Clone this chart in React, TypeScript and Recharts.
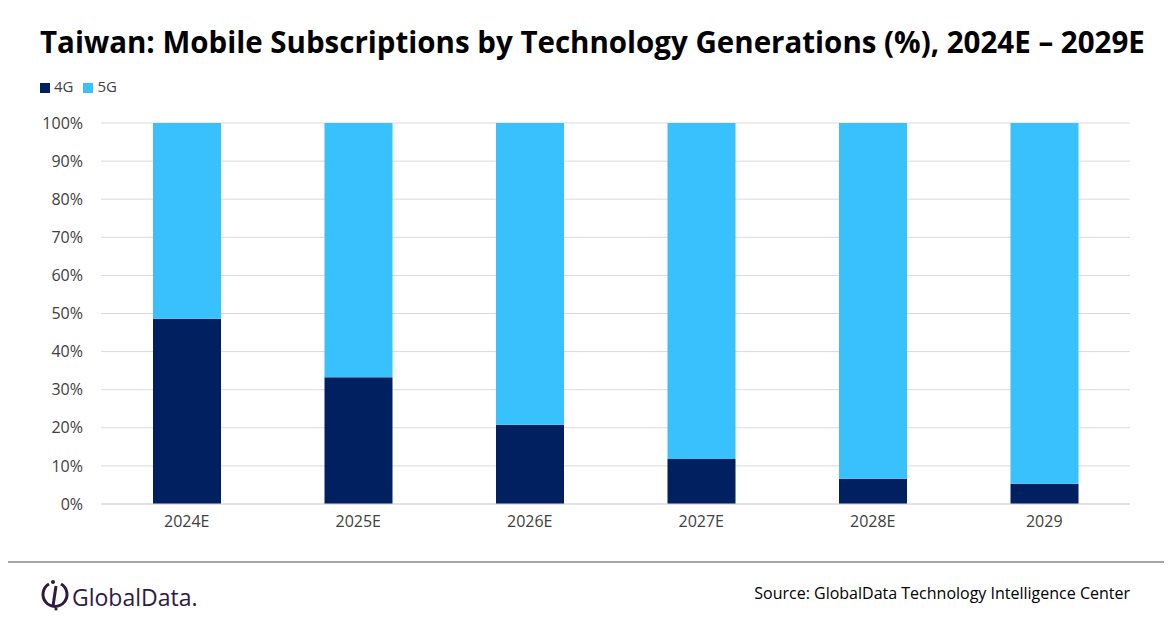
import { BarChart, Bar, XAxis, YAxis, CartesianGrid, Legend } from "recharts"

const years = ["2024E", "2025E", "2026E", "2027E", "2028E", "2029"]
const g4 = [48.6, 33.3, 20.8, 11.8, 6.6, 5.3]
const g5 = g4.map((v) => 100 - v)
const yTicks = [0, 10, 20, 30, 40, 50, 60, 70, 80, 90, 100]

const data = years.map((year, i) => ({ year, g4: g4[i], g5: g5[i] }))

const font = "'Open Sans', sans-serif"

export default function App() {
  return (
    <div style={{ position: "relative", width: 1172, height: 628, background: "#fff", margin: -8, fontFamily: font }}>
      <div style={{ position: "absolute", left: 40, top: 21, fontSize: 29.5, fontWeight: 700, color: "#000", whiteSpace: "nowrap" }}>
        Taiwan: Mobile Subscriptions by Technology Generations (%), 2024E – 2029E
      </div>
      <div style={{ position: "absolute", left: 0, top: 70 }}>
        <BarChart width={1172} height={464} data={data} barSize={68} margin={{ top: 33, right: 42, bottom: 0, left: 12 }}>
          <CartesianGrid vertical={false} stroke="#d9d9d9" />
          <XAxis dataKey="year" tickLine={false} axisLine={{ stroke: "#d9d9d9" }} tick={{ fontSize: 16, fill: "#404040", fontFamily: font }} tickMargin={6} />
          <YAxis domain={[0, 100]} ticks={yTicks} tickFormatter={(v) => `${v}%`} tickLine={false} axisLine={false} tick={{ fontSize: 16, fill: "#404040", fontFamily: font }} width={89} tickMargin={12} />
          <Legend verticalAlign="top" align="left" iconType="square" iconSize={10} wrapperStyle={{ top: 6, left: 40, fontSize: 15, fontFamily: font }} formatter={(v) => <span style={{ color: "#404040" }}>{v}</span>} />
          <Bar dataKey="g4" name="4G" stackId="a" fill="#002060" isAnimationActive={false} />
          <Bar dataKey="g5" name="5G" stackId="a" fill="#38c1fd" isAnimationActive={false} />
        </BarChart>
      </div>
      <div style={{ position: "absolute", left: 0, top: 561, width: 1172, borderTop: "2px solid #a6a6a6" }} />
      <svg style={{ position: "absolute", left: 40, top: 578 }} width={30} height={34}>
        <path d="M9 6 A12 12 0 1 0 21 6" fill="none" stroke="#2e1a47" strokeWidth={3} />
        <line x1={16} y1={8} x2={13} y2={28} stroke="#2e1a47" strokeWidth={3} />
        <circle cx={13} cy={4} r={2} fill="#2e1a47" />
        <circle cx={16} cy={31} r={1.6} fill="#2e1a47" />
      </svg>
      <div style={{ position: "absolute", left: 72, top: 581, fontSize: 23, color: "#2e1a47" }}>GlobalData.</div>
      <div style={{ position: "absolute", right: 42, top: 582, fontSize: 16, color: "#000" }}>
        Source: GlobalData Technology Intelligence Center
      </div>
    </div>
  )
}
